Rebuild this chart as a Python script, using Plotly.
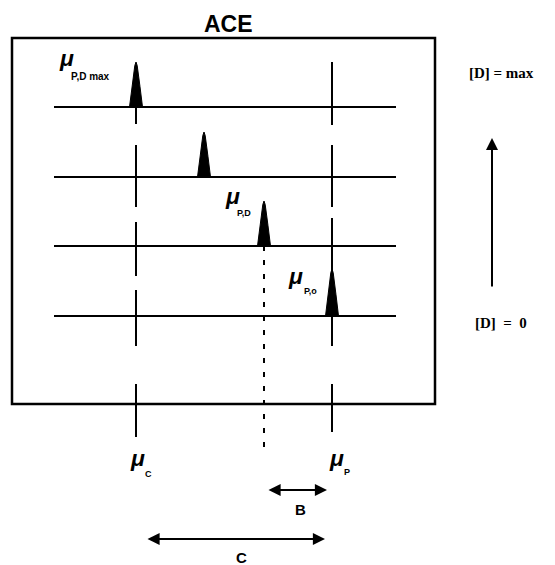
import plotly.graph_objects as go

# ---- data (diagram units: x/y in the schematic's own coordinate frame) ----
mu_C = 136                      # position of mu_C
mu_P = 332                      # position of mu_P
baseline_y = [107, 177, 246, 316]       # electropherogram baselines, top = [D] max
peak_x = [136, 204, 264, 332]           # peak mobility for each trace
peak_top = [62, 132, 201, 269]          # peak apex
baseline_x = [54, 396]
box = [12, 38, 435, 404]

# broken vertical guide segments (y ranges)
muC_segments = [(107, 124), (145, 207), (222, 276), (290, 346), (384, 437)]
muP_segments = [(62, 125), (145, 207), (218, 276), (316, 346), (384, 432)]
dotted_x = 264
dotted_range = (246, 447)

fig = go.Figure()

def seg(x0, y0, x1, y1, width=2, dash=None):
    fig.add_trace(go.Scatter(x=[x0, x1], y=[y0, y1], mode="lines",
                             line=dict(color="black", width=width, dash=dash),
                             hoverinfo="skip", showlegend=False))

# box
fig.add_shape(type="rect", x0=box[0], y0=box[1], x1=box[2], y1=box[3],
              line=dict(color="black", width=2.5), xref="x", yref="y")

# baselines
for yb in baseline_y:
    seg(baseline_x[0], yb, baseline_x[1], yb, width=2.2)

# vertical guides
for a, b in muC_segments:
    seg(mu_C, a, mu_C, b, width=2)
for a, b in muP_segments:
    seg(mu_P, a, mu_P, b, width=2)

# dotted line at mu_P,D
seg(dotted_x, dotted_range[0], dotted_x, dotted_range[1], width=2, dash="5px,9px")

# peaks
hw = 6.5
for px, pt, yb in zip(peak_x, peak_top, baseline_y):
    h = yb - pt
    xs = [px - hw, px - 4, px - 1.2, px, px + 1.2, px + 4, px + hw, px - hw]
    ys = [yb, yb - h * 0.45, yb - h * 0.92, pt,
          yb - h * 0.92, yb - h * 0.45, yb, yb]
    fig.add_trace(go.Scatter(x=xs, y=ys, mode="lines", fill="toself",
                             fillcolor="black", line=dict(color="black", width=1),
                             hoverinfo="skip", showlegend=False))

# vertical [D] arrow
fig.add_annotation(x=492, y=138, ax=492, ay=288, xref="x", yref="y",
                   axref="x", ayref="y", text="", showarrow=True,
                   arrowhead=2, arrowsize=1.2, arrowwidth=2, arrowcolor="black")

# B and C double arrows
fig.add_annotation(x=327, y=490, ax=267, ay=490, xref="x", yref="y",
                   axref="x", ayref="y", text="", showarrow=True, arrowside="end+start",
                   arrowhead=2, arrowsize=1.1, arrowwidth=2.2, arrowcolor="black")
fig.add_annotation(x=325, y=539, ax=146, ay=539, xref="x", yref="y",
                   axref="x", ayref="y", text="", showarrow=True, arrowside="end+start",
                   arrowhead=2, arrowsize=1.1, arrowwidth=2.2, arrowcolor="black")

def txt(x, y, s, size, family="Liberation Sans, Arial", xanchor="center"):
    fig.add_annotation(x=x, y=y, xref="x", yref="y", text=s, showarrow=False,
                       font=dict(size=size, family=family, color="black"),
                       xanchor=xanchor, yanchor="middle")

mu = "<b><i>μ</i></b>"
sans = "Liberation Sans, Arial"
serif = "Liberation Serif, Times New Roman"

txt(228, 24, "<b>ACE</b>", 23, sans)
# mu labels
txt(66, 58, mu, 23, sans)
txt(69, 76, "<b>P,D max</b>", 10, sans, xanchor="left")
txt(232, 196, mu, 23, sans)
txt(235, 213, "<b>P,D</b>", 9, sans, xanchor="left")
txt(295, 276, mu, 23, sans)
txt(302, 291, "<b>P,o</b>", 9, sans, xanchor="left")
txt(137, 458, mu, 23, sans)
txt(143, 474, "<b>C</b>", 9, sans, xanchor="left")
txt(336, 458, mu, 23, sans)
txt(342, 472, "<b>P</b>", 9, sans, xanchor="left")

txt(300, 509, "<b>B</b>", 15, sans)
txt(241, 557, "<b>C</b>", 15, sans)

txt(501, 73, "<b>[D] = max</b>", 15, serif)
txt(501, 323, "<b>[D]&nbsp;&nbsp;=&nbsp;&nbsp;0</b>", 15, serif)

# The page body has an 8px default margin: shrink the figure by that much and
# start the axis ranges at 8 so diagram units equal window pixels.
off = 8
fig.update_layout(
    width=555 - off, height=565 - off,
    margin=dict(l=0, r=0, t=0, b=0),
    paper_bgcolor="white", plot_bgcolor="white",
    xaxis=dict(range=[off, 555], visible=False, fixedrange=True),
    yaxis=dict(range=[565, off], visible=False, fixedrange=True),
    showlegend=False,
)

fig.write_html("out.html")
